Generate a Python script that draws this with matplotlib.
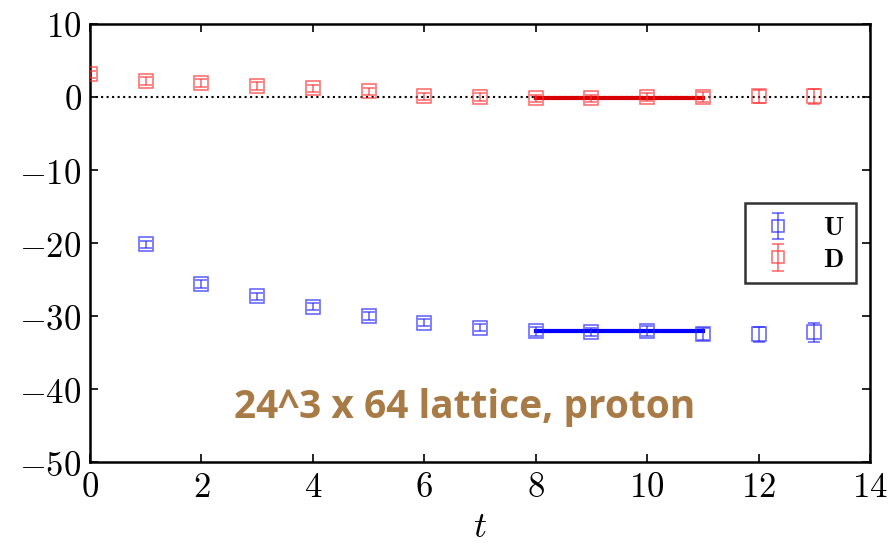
import matplotlib
matplotlib.use("Agg")
import matplotlib.pyplot as plt
import numpy as np

plt.rcParams['mathtext.fontset'] = 'cm'
plt.rcParams['font.family'] = ['DejaVu Serif']

t = [0, 1, 2, 3, 4, 5, 6, 7, 8, 9, 10, 11, 12, 13]
t_u = [1, 2, 3, 4, 5, 6, 7, 8, 9, 10, 11, 12, 13]
u_vals = [-20.2, -25.6, -27.3, -28.7, -30.0, -30.9, -31.6, -32.1, -32.2, -32.1, -32.5, -32.5, -32.2]
u_err = [0.5, 0.5, 0.5, 0.5, 0.5, 0.5, 0.5, 0.6, 0.6, 0.7, 0.8, 1.0, 1.3]
d_vals = [3.1, 2.2, 1.9, 1.5, 1.2, 0.8, 0.1, 0.0, -0.2, -0.2, 0.0, 0.0, 0.1, 0.1]
d_err = [0.5, 0.5, 0.5, 0.5, 0.5, 0.5, 0.5, 0.5, 0.5, 0.5, 0.6, 0.7, 0.9, 1.0]
fit_range = [8, 11]
u_fit = -32.0
d_fit = -0.1

xticks = [0, 2, 4, 6, 8, 10, 12, 14]
yticks = [10, 0, -10, -20, -30, -40, -50]

fig = plt.figure(figsize=(8.94, 5.44), dpi=100)
ax = fig.add_axes([0.1007, 0.1507, 0.8725, 0.8052])

blue = (0.15, 0.15, 1.0)
red = (1.0, 0.2, 0.2)

ax.axhline(0, color='black', ls=':', lw=1.5, zorder=1)
ax.plot(fit_range, [u_fit, u_fit], color=(0, 0, 1.0), lw=3, zorder=3)
ax.plot(fit_range, [d_fit, d_fit], color=(0.85, 0, 0), lw=3, zorder=3)

ax.errorbar(t_u, u_vals, yerr=u_err, fmt='s', mfc='none', mec=blue, ecolor=blue,
            ms=10, mew=1.1, capsize=4.5, elinewidth=1.1, alpha=0.75, label=r'$\mathbf{U}$', zorder=4)
ax.errorbar(t, d_vals, yerr=d_err, fmt='s', mfc='none', mec=red, ecolor=red,
            ms=10, mew=1.1, capsize=4.5, elinewidth=1.1, alpha=0.75, label=r'$\mathbf{D}$', zorder=4)

ax.set_xlim(0, 14)
ax.set_ylim(-50, 10)
ax.set_xticks(xticks)
ax.set_yticks(yticks)
ax.set_xticklabels([r'$%d$' % v for v in xticks], fontsize=25)
ax.set_yticklabels([r'$%d$' % v for v in yticks], fontsize=25)
ax.tick_params(direction='in', length=6, width=1.2, top=True, right=True, pad=6)
for s in ax.spines.values():
    s.set_linewidth(1.8)
ax.set_xlabel(r'$t$', fontsize=26, labelpad=4)

leg = ax.legend(loc='upper left', bbox_to_anchor=(0.84, 0.591), frameon=True,
                fancybox=False, edgecolor='black', fontsize=19, handlelength=1.6,
                borderpad=0.45, labelspacing=0.25, borderaxespad=0, markerscale=0.8,
                handletextpad=0.9, markerfirst=True)
leg.get_frame().set_linewidth(1.8)

ax.text(0.48, 0.125, '24^3 x 64 lattice, proton', transform=ax.transAxes,
        ha='center', va='center', fontsize=28, fontweight='bold',
        color='#A87A45', family='Open Sans')

fig.savefig('out.png', dpi=100)
